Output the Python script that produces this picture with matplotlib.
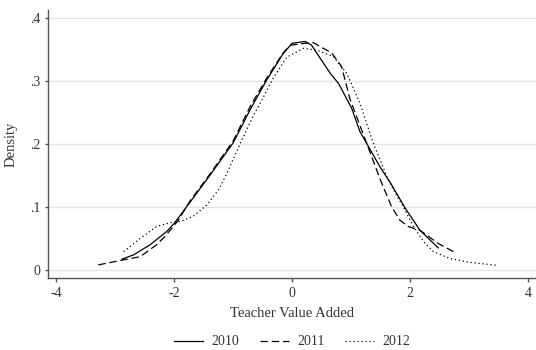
import matplotlib
matplotlib.use('Agg')
import matplotlib.pyplot as plt
from matplotlib.lines import Line2D

# kernel density estimates of teacher value added, by year
x_2010 = [-2.89, -2.69, -2.41, -2.13, -2.0, -1.73, -1.39, -1.0, -0.71, -0.43, -0.15, 0.0,
          0.22, 0.33, 0.50, 0.65, 0.79, 1.01, 1.15, 1.49, 1.69, 1.92, 2.17, 2.48]
y_2010 = [0.017, 0.024, 0.040, 0.061, 0.074, 0.108, 0.151, 0.202, 0.255, 0.302, 0.344, 0.360,
          0.363, 0.357, 0.333, 0.312, 0.296, 0.257, 0.220, 0.164, 0.135, 0.098, 0.063, 0.035]

x_2011 = [-3.29, -2.86, -2.58, -2.30, -2.16, -1.93, -1.73, -1.39, -1.0, -0.71, -0.43, -0.15, -0.03,
          0.22, 0.36, 0.53, 0.67, 0.84, 0.98, 1.27, 1.49, 1.69, 1.83, 1.97, 2.17, 2.48, 2.74]
y_2011 = [0.008, 0.016, 0.021, 0.040, 0.053, 0.079, 0.110, 0.153, 0.205, 0.260, 0.305, 0.345, 0.357,
          0.360, 0.361, 0.352, 0.345, 0.323, 0.272, 0.200, 0.145, 0.100, 0.079, 0.069, 0.063, 0.042, 0.029]

x_2012 = [-2.86, -2.58, -2.30, -2.07, -1.90, -1.68, -1.45, -1.25, -1.11, -0.88, -0.66, -0.50, -0.32,
          -0.09, 0.19, 0.42, 0.70, 0.93, 1.15, 1.38, 1.61, 1.78, 1.89, 2.06, 2.23, 2.40, 2.68, 3.02, 3.50]
y_2012 = [0.029, 0.050, 0.069, 0.075, 0.077, 0.085, 0.103, 0.127, 0.153, 0.201, 0.245, 0.272, 0.305,
          0.338, 0.352, 0.349, 0.339, 0.312, 0.265, 0.201, 0.148, 0.117, 0.100, 0.069, 0.045, 0.029,
          0.018, 0.012, 0.007]

years = ['2010', '2011', '2012']
x_ticks = [-4, -2, 0, 2, 4]
y_ticks = [0, 0.1, 0.2, 0.3, 0.4]
y_tick_labels = ['0', '.1', '.2', '.3', '.4']

plt.rcParams['font.family'] = ['Liberation Serif', 'DejaVu Serif']
text_color = '#333333'

fig = plt.figure(figsize=(5.36, 3.5), dpi=100)
ax = fig.add_axes([0.090, 0.206, 0.91, 0.765])

styles = [dict(ls='-'), dict(ls=(0, (6, 3))), dict(ls=(0, (1, 2.2)))]
series = [(x_2010, y_2010), (x_2011, y_2011), (x_2012, y_2012)]
for (xs, ys), st in zip(series, styles):
    ax.plot(xs, ys, color='black', lw=0.9, **st)

ax.set_xlim(-4.14, 4.14)
ax.set_ylim(-0.0127, 0.4127)
ax.set_xticks(x_ticks)
ax.set_xticklabels([str(v) for v in x_ticks])
ax.set_yticks(y_ticks)
ax.set_yticklabels(y_tick_labels)
ax.grid(axis='y', color='#e4e4e4', lw=1)
ax.set_axisbelow(True)
for side in ['top', 'right']:
    ax.spines[side].set_visible(False)
for side in ['left', 'bottom']:
    ax.spines[side].set_color('#555555')
    ax.spines[side].set_linewidth(1)
ax.tick_params(colors='#555555', labelcolor=text_color, labelsize=10, length=3, width=1)
ax.tick_params(axis='y', length=2.5, pad=3)
ax.set_xlabel('Teacher Value Added', fontsize=10.5, color=text_color, labelpad=5)
ax.set_ylabel('Density', fontsize=10.5, color=text_color, labelpad=9)

handles = [Line2D([], [], color='black', lw=0.9, **st) for st in styles]
fig.legend(handles, years, loc='center', bbox_to_anchor=(0.545, 0.023), ncol=3, frameon=False,
           fontsize=10, handlelength=2.1, columnspacing=1.5, handletextpad=0.6,
           labelcolor=text_color)

fig.savefig('out.png', dpi=100)
